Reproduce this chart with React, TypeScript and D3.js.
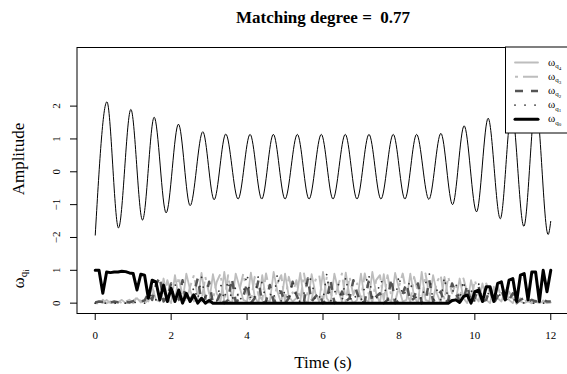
import React from 'react';
import * as d3 from 'd3';

// ---- Data ----
// Amplitude signal: extrema (time s, amplitude)
const sigT = [0, 0.308, 0.613, 0.939, 1.245, 1.553, 1.868, 2.192, 2.5, 2.834, 3.132, 3.439, 3.763, 4.079, 4.387, 4.692, 5.0, 5.324, 5.632, 5.955, 6.263, 6.587, 6.895, 7.211, 7.526, 7.85, 8.158, 8.466, 8.789, 9.105, 9.413, 9.718, 10.045, 10.35, 10.67, 10.97, 11.29, 11.605, 11.93, 12.0];
const sigV = [-1.94, 2.13, -1.71, 1.90, -1.47, 1.66, -1.25, 1.45, -1.03, 1.22, -0.85, 1.15, -0.83, 1.14, -0.83, 1.14, -0.83, 1.14, -0.83, 1.14, -0.83, 1.14, -0.83, 1.14, -0.83, 1.14, -0.83, 1.14, -0.84, 1.17, -1.0, 1.40, -1.22, 1.63, -1.43, 1.87, -1.66, 2.1, -1.91, -1.5];

// Weights sampled every 0.1 s from 0 to 12 s
const wStep = 0.1;
const q0 = [
  1.0, 1.0, 0.3, 0.95, 0.93, 0.95, 0.95, 0.97, 0.96, 0.92,
  0.9, 0.4, 0.88, 0.85, 0.15, 0.7, 0.65, 0.1, 0.55, 0.05,
  0.45, 0.05, 0.4, 0, 0.3, 0.05, 0.25, 0, 0.15, 0,
  0.08, 0, 0, 0, 0, 0, 0, 0, 0, 0,
  0, 0, 0, 0, 0, 0, 0, 0, 0, 0,
  0, 0, 0, 0, 0, 0, 0, 0, 0, 0,
  0, 0, 0, 0, 0, 0, 0, 0, 0, 0,
  0, 0, 0, 0, 0, 0, 0, 0, 0, 0,
  0, 0, 0, 0, 0, 0, 0, 0, 0, 0,
  0, 0, 0, 0, 0.08, 0.1, 0.02, 0.2, 0.25, 0,
  0.35, 0.4, 0.05, 0.5, 0.5, 0.05, 0.6, 0.65, 0.1, 0.7,
  0.75, 0.05, 0.85, 0.9, 0.1, 0.95, 0.95, 0.05, 1.0, 0.35,
  1.0,
];
const q1 = [
  0, 0, 0, 0, 0, 0, 0, 0, 0, 0,
  0, 0.05, 0, 0, 0.1, 0.3, 0.1, 0.05, 0.4, 0.05,
  0.2, 0.6, 0.1, 0.05, 0.3, 0.05, 0.5, 0.1, 0.8, 0.1,
  0.05, 0.2, 0.05, 0.6, 0.1, 0.7, 0.05, 0.5, 0.05, 0.3,
  0.9, 0.05, 0.2, 0.85, 0.6, 0.05, 0.3, 0.1, 0.9, 0.05,
  0.4, 0.05, 0.7, 0.1, 0.05, 0.3, 0.8, 0.7, 0.05, 0.2,
  0.1, 0.9, 0.05, 0.3, 0.6, 0.05, 0.8, 0.05, 0.3, 0.1,
  0.05, 0.5, 0.9, 0.2, 0.05, 0.7, 0.6, 0.1, 0.05, 0.05,
  0.85, 0.2, 0.4, 0.7, 0.05, 0.3, 0.1, 0.6, 0.9, 0.05,
  0.4, 0.1, 0.8, 0.05, 0.3, 0.6, 0.1, 0.7, 0.05, 0.4,
  0.05, 0.6, 0.05, 0.5, 0.1, 0.3, 0.05, 0.4, 0.05, 0.2,
  0.1, 0.1, 0.05, 0, 0, 0, 0, 0, 0, 0,
  0,
];
const q2 = [
  0.02, 0.05, 0.04, 0.06, 0.02, 0.05, 0.03, 0.05, 0.04, 0.02,
  0.06, 0.1, 0.05, 0.08, 0.3, 0.1, 0.55, 0.8, 0.05, 0.2,
  0.6, 0, 0.1, 0.7, 0, 0.1, 0.3, 0.75, 0.05, 0.15,
  0.65, 0, 0.05, 0.3, 0, 0.1, 0.75, 0.05, 0.1, 0.2,
  0.6, 0, 0.15, 0.7, 0, 0.05, 0.55, 0.05, 0.1, 0.35,
  0, 0.15, 0.65, 0.25, 0, 0.05, 0.75, 0.05, 0.2, 0.3,
  0, 0.1, 0.7, 0, 0.05, 0.35, 0.05, 0.15, 0.7, 0.3,
  0, 0.05, 0.65, 0.05, 0.2, 0.3, 0, 0.1, 0.75, 0,
  0.1, 0.3, 0.6, 0.05, 0.15, 0.6, 0, 0.05, 0.7, 0.05,
  0.2, 0.35, 0, 0.1, 0.6, 0.3, 0.05, 0.1, 0.55, 0,
  0.15, 0.5, 0.05, 0.1, 0.45, 0, 0.2, 0.4, 0.05, 0.1,
  0.3, 0, 0.1, 0.15, 0.05, 0.1, 0.05, 0.08, 0.1, 0.05,
  0.05,
];
const q3 = [
  0, 0, 0.1, 0, 0.05, 0, 0.08, 0, 0.05, 0.1,
  0, 0.2, 0.05, 0, 0.1, 0.2, 0.6, 0.15, 0.1, 0.7,
  0.3, 0.05, 0.8, 0.2, 0.05, 0.5, 0.85, 0.2, 0.05, 0.8,
  0.3, 0.1, 0.65, 0.9, 0.05, 0.85, 0.2, 0.05, 0.4, 0.9,
  0.3, 0.05, 0.8, 0.25, 0.1, 0.9, 0.35, 0.05, 0.6, 0.85,
  0.05, 0.8, 0.3, 0.7, 0.05, 0.9, 0.2, 0.1, 0.7, 0.85,
  0.05, 0.8, 0.3, 0.05, 0.55, 0.9, 0.05, 0.8, 0.25, 0.6,
  0.1, 0.9, 0.3, 0.05, 0.7, 0.85, 0.1, 0.85, 0.2, 0.05,
  0.5, 0.9, 0.3, 0.05, 0.8, 0.35, 0.05, 0.9, 0.25, 0.1,
  0.65, 0.85, 0.1, 0.8, 0.3, 0.6, 0.1, 0.75, 0.3, 0.05,
  0.7, 0.25, 0.1, 0.6, 0.3, 0.05, 0.5, 0.2, 0.1, 0.35,
  0.15, 0.05, 0.15, 0.05, 0.1, 0, 0.05, 0, 0.08, 0,
  0.05,
];
const q4 = [
  0, 0.05, 0, 0.1, 0, 0.05, 0.02, 0.1, 0, 0.05,
  0.08, 0.15, 0.02, 0.1, 0.05, 0.5, 0.1, 0.05, 0.75, 0.15,
  0, 0.85, 0.2, 0.05, 0.9, 0.4, 0.05, 0.1, 0.92, 0.15,
  0, 0.88, 0.3, 0.05, 0.95, 0.1, 0, 0.9, 0.5, 0.1,
  0.05, 0.93, 0.2, 0, 0.85, 0.1, 0.05, 0.95, 0.35, 0,
  0.9, 0.2, 0.05, 0.15, 0.92, 0.1, 0, 0.88, 0.3, 0.05,
  0.95, 0.15, 0, 0.9, 0.4, 0.05, 0.93, 0.2, 0, 0.1,
  0.9, 0.1, 0.05, 0.95, 0.3, 0, 0.88, 0.15, 0.05, 0.92,
  0.45, 0.05, 0.1, 0.9, 0.2, 0, 0.95, 0.1, 0.05, 0.85,
  0.3, 0, 0.8, 0.2, 0.05, 0.1, 0.75, 0.15, 0, 0.7,
  0.2, 0.05, 0.6, 0.1, 0, 0.5, 0.15, 0.05, 0.4, 0.1,
  0, 0.25, 0.05, 0, 0.05, 0, 0.08, 0, 0.05, 0,
  0.02,
];

const xTicks = [0, 2, 4, 6, 8, 10, 12];
const ampTicks = [-2, -1, 0, 1, 2];
const wTicks = [0, 1];
const legendSubs = ['4', '3', '2', '1', '0'];
const titleText = 'Matching degree =  0.77';

// ---- Layout / styles ----
const W = 567;
const H = 374;
const P = { left: 77, right: 569, top: 47, bottom: 313 };
const wOffset = -4; // weights drawn on the same axis, shifted down

const seriesStyle = [
  { data: q4, stroke: '#bdbdbd', width: 1.8, dash: undefined as string | undefined, cap: 'round' },
  { data: q3, stroke: '#bdbdbd', width: 2, dash: '3,5,15,5', cap: 'butt' },
  { data: q2, stroke: '#555555', width: 2.5, dash: '8,8', cap: 'butt' },
  { data: q1, stroke: '#333333', width: 1.8, dash: '0.01,10', cap: 'round' },
  { data: q0, stroke: '#000000', width: 3, dash: undefined as string | undefined, cap: 'round' },
];

const FONT = '"Liberation Serif", "Times New Roman", Times, serif';

export default function App() {
  const x = d3.scaleLinear().domain([-0.48, 12.48]).range([P.left, P.right]);
  const y = d3.scaleLinear().domain([-4.3, 3.8]).range([P.bottom, P.top]);

  const sigLine = d3
    .line<number>()
    .x((_, i) => x(sigT[i]))
    .y((d) => y(d))
    .curve(d3.curveMonotoneX);

  const wLine = d3
    .line<number>()
    .x((_, i) => x(i * wStep))
    .y((d) => y(d + wOffset));

  const fmt = d3.format('d');

  const legX = 505;
  const legY = P.top;
  const legRow0 = 62.5;
  const legDy = 14.2;

  return (
    <svg
      width={W}
      height={H}
      style={{ position: 'absolute', left: 0, top: 0, display: 'block', background: '#fff' }}
      fontFamily={FONT}
    >
      <defs>
        <clipPath id="plotClip">
          <rect x={P.left} y={P.top} width={P.right - P.left} height={P.bottom - P.top} />
        </clipPath>
      </defs>
      <rect x={0} y={0} width={W} height={H} fill="#fff" />

      <g clipPath="url(#plotClip)">
        <path d={sigLine(sigV) || ''} fill="none" stroke="#000" strokeWidth={1} strokeLinejoin="round" />
        {seriesStyle.map((s, k) => (
          <path
            key={k}
            d={wLine(s.data) || ''}
            fill="none"
            stroke={s.stroke}
            strokeWidth={s.width}
            strokeDasharray={s.dash}
            strokeLinecap={s.cap as any}
            strokeLinejoin="round"
          />
        ))}
      </g>

      {/* plot box */}
      <rect x={P.left} y={P.top + 0.5} width={P.right - P.left} height={P.bottom - P.top} fill="none" stroke="#000" strokeWidth={1} />

      {/* legend */}
      <rect x={legX + 0.5} y={legY} width={80} height={86} fill="#fff" stroke="#000" strokeWidth={1} />
      {seriesStyle.map((s, k) => {
        const ry = legRow0 + k * legDy;
        return (
          <g key={k}>
            <line
              x1={515}
              x2={538}
              y1={ry}
              y2={ry}
              stroke={s.stroke}
              strokeWidth={k === 4 ? 3 : s.width}
              strokeDasharray={s.dash}
              strokeLinecap={s.cap as any}
            />
            <text x={548} y={ry + 3} fontSize={11} fill="#000">
              ω
              <tspan dy={2.5} fontSize={7}>q</tspan>
              <tspan dy={1.5} fontSize={5}>{legendSubs[k]}</tspan>
            </text>
          </g>
        );
      })}

      {/* x axis */}
      {xTicks.map((t) => (
        <g key={t}>
          <line x1={x(t)} x2={x(t)} y1={P.bottom} y2={P.bottom + 7} stroke="#000" />
          <text x={x(t)} y={339} fontSize={11} textAnchor="middle">
            {fmt(t)}
          </text>
        </g>
      ))}

      {/* y axis: amplitude */}
      {ampTicks.map((v) => (
        <g key={'a' + v}>
          <line x1={P.left - 7} x2={P.left} y1={y(v)} y2={y(v)} stroke="#000" />
          <text transform={`translate(60,${y(v)}) rotate(-90)`} fontSize={11} textAnchor="middle">
            {fmt(v)}
          </text>
        </g>
      ))}
      {/* y axis: weights */}
      {wTicks.map((v) => (
        <g key={'w' + v}>
          <line x1={P.left - 7} x2={P.left} y1={y(v + wOffset)} y2={y(v + wOffset)} stroke="#000" />
          <text transform={`translate(60,${y(v + wOffset)}) rotate(-90)`} fontSize={11} textAnchor="middle">
            {fmt(v)}
          </text>
        </g>
      ))}

      {/* labels */}
      <text transform="translate(24,159) rotate(-90)" fontSize={17} textAnchor="middle">
        Amplitude
      </text>
      <text transform="translate(24,279) rotate(-90)" fontSize={17} textAnchor="middle">
        ω<tspan dy={3} fontSize={11}>q</tspan>
        <tspan dy={2} fontSize={8}>i</tspan>
      </text>
      <text x={(P.left + P.right) / 2} y={368} fontSize={17} textAnchor="middle">
        Time (s)
      </text>
      <text
        x={(P.left + P.right) / 2}
        y={23}
        fontSize={17}
        fontWeight="bold"
        textAnchor="middle"
        style={{ whiteSpace: 'pre' }}
      >
        {titleText}
      </text>
    </svg>
  );
}
